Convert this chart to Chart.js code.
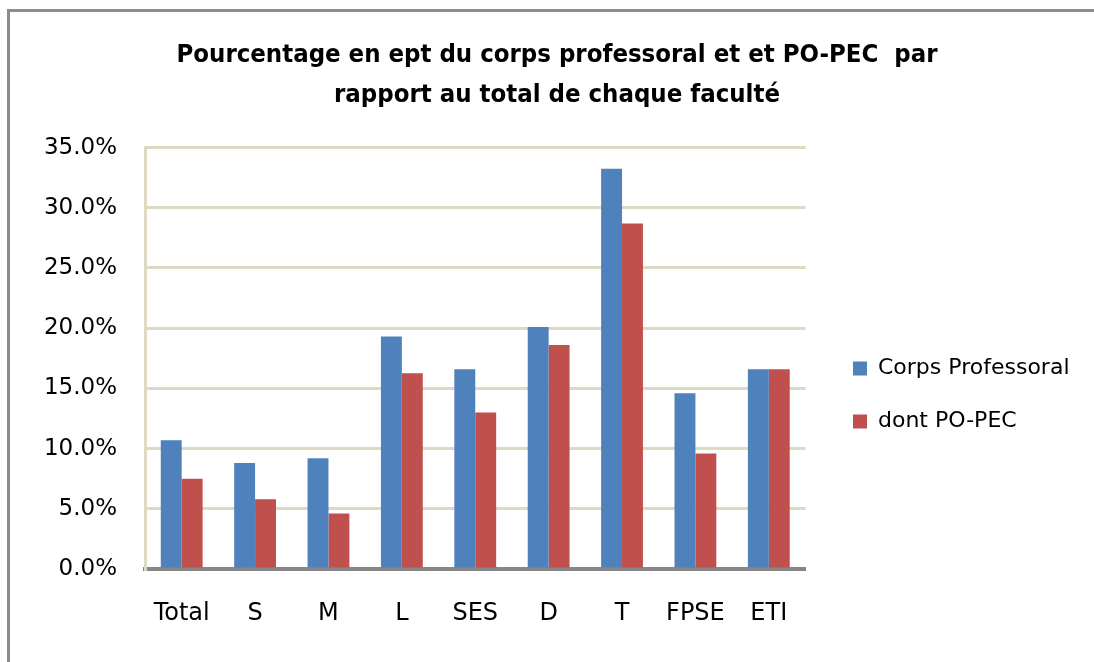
<!DOCTYPE html>
<html>
<head>
<meta charset="utf-8">
<script src="https://cdn.jsdelivr.net/npm/chart.js@4.4.1/dist/chart.umd.min.js"></script>
<style>
  html, body { margin: 0; padding: 0; background: #fff; overflow: hidden; }
  #frame { position: absolute; left: 7px; top: 9px; width: 2000px; height: 2000px; border: 3px solid #8c8c8c; }
  #chart { position: absolute; left: 0; top: 0; }
</style>
</head>
<body>
<div id="frame"></div>
<canvas id="chart" width="1094" height="662"></canvas>
<script>
const categories = ['Total', 'S', 'M', 'L', 'SES', 'D', 'T', 'FPSE', 'ETI'];
const corpsProfessoral = [10.7, 8.8, 9.2, 19.3, 16.6, 20.1, 33.25, 14.6, 16.6];
const dontPoPec = [7.5, 5.8, 4.6, 16.25, 13.0, 18.6, 28.7, 9.6, 16.6];

const BLUE = '#4f81bd';
const RED = '#c0504d';
const GRID = '#ddd9c3';

// move the built-in legend and title boxes to where the original has them
const boxNudge = {
  id: 'boxNudge',
  afterLayout(chart) {
    const lg = chart.legend;
    const dx = 822 - lg.left;
    lg.left += dx; lg.right += dx;
    lg.top += 64; lg.bottom += 64;
    const tb = chart.titleBlock;
    const tx = 557 - (tb.left + tb.right) / 2;
    tb.left += tx; tb.right += tx;
  }
};

new Chart(document.getElementById('chart'), {
  type: 'bar',
  data: {
    labels: categories,
    datasets: [
      { label: 'Corps Professoral', data: corpsProfessoral, backgroundColor: BLUE },
      { label: 'dont PO-PEC', data: dontPoPec, backgroundColor: RED }
    ]
  },
  options: {
    responsive: false,
    animation: false,
    layout: { padding: { left: 0, right: 31, top: 0, bottom: 0 } },
    datasets: { bar: { categoryPercentage: 0.57, barPercentage: 1 } },
    scales: {
      x: {
        grid: { display: false, drawTicks: false },
        border: { color: '#868686', width: 4 },
        ticks: { color: '#000', padding: 30, font: { family: 'DejaVu Sans', size: 24 } },
        afterFit(scale) { scale.height = 93; }
      },
      y: {
        min: 0,
        max: 35,
        grid: { color: GRID, lineWidth: 3, drawTicks: false },
        border: { color: GRID, width: 3 },
        ticks: {
          stepSize: 5,
          color: '#000',
          padding: 28,
          font: { family: 'DejaVu Sans', size: 23 },
          callback: v => v.toFixed(1) + '%'
        },
        afterFit(scale) { scale.width = 145; }
      }
    },
    plugins: {
      title: {
        display: true,
        text: ['Pourcentage en ept du corps professoral et et PO-PEC  par', 'rapport au total de chaque faculté'],
        color: '#000',
        font: { family: "'Liberation Sans Narrow', 'DejaVu Sans Condensed', sans-serif", size: 25.5, weight: 'bold', lineHeight: 1.58 },
        padding: { top: 35, bottom: 32 }
      },
      legend: {
        position: 'right',
        labels: {
          color: '#000',
          boxWidth: 14,
          boxHeight: 14,
          padding: 31,
          font: { family: 'DejaVu Sans', size: 22 }
        }
      },
      tooltip: { enabled: false }
    }
  },
  plugins: [boxNudge]
});
</script>
</body>
</html>
